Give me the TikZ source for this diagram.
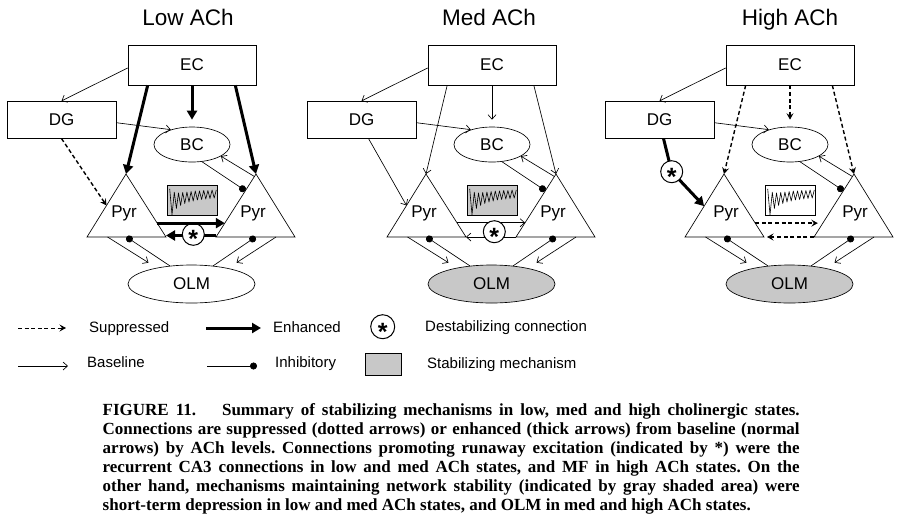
\documentclass[tikz,border=0pt]{standalone}
\usepackage{fontspec}
\setmainfont{Liberation Serif}
\setsansfont{Liberation Sans}
\usetikzlibrary{arrows.meta,shapes.geometric,calc}
\definecolor{shade}{RGB}{200,200,200}
\newcommand\lblfont{\sffamily\fontsize{17}{20}\selectfont}
\newcommand\legfont{\sffamily\fontsize{15}{18}\selectfont}
\newcommand\ttlfont{\sffamily\fontsize{22.5}{26}\selectfont}
\newcommand\capfont{\rmfamily\bfseries\fontsize{17}{19}\selectfont\frenchspacing}
\newcommand\starsym{\smash{\raisebox{-13.3pt}{\sffamily\bfseries\fontsize{25}{25}\selectfont *}}}
\newcommand\capline[1]{\makebox[697pt][s]{#1}}

% #1 prefix, #2 x offset, #3 OLM fill, #4 trace box fill, #5 Pyr label shift
\newcommand\panel[5]{%
  \node[rbox, minimum width=128pt, minimum height=40pt] (#1EC) at (#2+192,65) {EC};
  \node[rbox, minimum width=109pt, minimum height=37pt] (#1DG) at (#2+61.5,119.7) {DG};
  \node[ell, minimum width=76pt, minimum height=35pt] (#1BC) at (#2+192,144.5) {BC};
  \node[ell, minimum width=127pt, minimum height=38pt, fill=#3] (#1OLM) at (#2+191.5,284) {OLM};
  \coordinate (#1lA) at (#2+126,174);
  \coordinate (#1lB) at (#2+87,237);
  \coordinate (#1lC) at (#2+166,237);
  \coordinate (#1rA) at (#2+256,174);
  \coordinate (#1rB) at (#2+216,237);
  \coordinate (#1rC) at (#2+295,237);
  \draw[tri] (#1lA) -- (#1lB) -- (#1lC) -- cycle;
  \draw[tri] (#1rA) -- (#1rB) -- (#1rC) -- cycle;
  \node[lbl] (#1lP) at (#2+124+#5,213) {Pyr};
  \node[lbl] (#1rP) at (#2+253+#5,213) {Pyr};
  \node[tbox, fill=#4] (#1TR) at (#2+192.25,200.5) {};
  \draw[trc, shift={(#2+167,185.5)}] (2.7,3.3) -- (5,29.3) -- (7.3,6.7) -- (9.4,23) -- (11.5,7.5)
     -- (13.6,20) -- (15.7,7) -- (17.8,18) -- (19.9,6.5) -- (22,16.5) -- (24.1,6) -- (26.2,15.5)
     -- (28.3,5.5) -- (30.4,14.5) -- (32.5,5.5) -- (34.6,14) -- (36.7,5) -- (38.8,13.5)
     -- (40.9,5) -- (43,13) -- (45.1,4.5) -- (47.2,12.5) -- (49.3,4.5);
  \draw[basel] ([yshift=-3pt]#1EC.west) -- (#1DG.north);
  \draw[basel] ([yshift=-3pt]#1DG.east) -- (#1BC.145);
  \draw[basel] ($(#1rA)!0.04!(#1rB)$) -- (#1BC.-22);
  \draw[inh] (#1BC.-60) -- ($(#1rA)!0.265!(#1rB)$);
  \draw[basel] ($(#1lB)!0.26!(#1lC)$) -- ([xshift=-43pt,yshift=2pt]#1OLM.north);
  \draw[inh] (#1OLM.140) -- ($(#1lB)!0.5!(#1lC)$);
  \draw[basel] ($(#1rB)!0.76!(#1rC)$) -- ([xshift=45pt,yshift=2pt]#1OLM.north);
  \draw[inh] (#1OLM.40) -- ($(#1rB)!0.5!(#1rC)$);
}

\begin{document}
\begin{tikzpicture}[x=1pt,y=-1pt,
  rbox/.style={draw, line width=0.65pt, inner sep=0pt, font=\lblfont},
  ell/.style={ellipse, draw, line width=0.65pt, inner sep=0pt, font=\lblfont},
  lbl/.style={font=\lblfont, inner sep=0pt},
  tri/.style={line width=0.65pt, line join=miter},
  basel/.style={line width=0.65pt, -{Straight Barb[length=4.5pt,width=8pt]}},
  thk/.style={line width=3pt, -{Triangle[length=9pt,width=10pt]}},
  supp/.style={line width=1.4pt, dash pattern=on 4pt off 2.6pt, -{Stealth[length=6.5pt,width=7pt,inset=2.5pt]}},
  inh/.style={line width=0.65pt, -{Circle[length=7pt]}},
  starc/.style={circle, draw, line width=1pt, fill=white, minimum size=22pt, inner sep=0pt},
  tbox/.style={draw, line width=0.65pt, minimum width=50.5pt, minimum height=30pt, inner sep=0pt},
  trc/.style={line width=0.6pt, line join=round},
  leg/.style={font=\legfont, inner sep=0pt, anchor=base west},
  ttl/.style={font=\ttlfont, inner sep=0pt, anchor=base},
  capl/.style={font=\capfont, inner sep=0pt, anchor=base west},
]
\useasboundingbox (0,0) rectangle (904,523);

% titles
\node[ttl] (T1) at (188,25) {Low ACh};
\node[ttl] (T2) at (489,25) {Med ACh};
\node[ttl] (T3) at (790,25) {High ACh};

% ---------- Low ACh ----------
\panel{L}{0}{white}{shade}{0}
\draw[thk] ([xshift=20pt]LEC.south west) -- (LlA);
\draw[thk] (LEC.south) -- ([yshift=7pt]LBC.north);
\draw[thk] ([xshift=-21pt]LEC.south east) -- (LrA);
\draw[supp] (LDG.south) -- ($(LlA)!0.5!(LlB)$);
\draw[thk] ([yshift=1.5pt]LrB) -- ([yshift=1.5pt]LlC);
\node[starc] (LX) at (193.3,234.3) {\starsym};
\draw[thk] ($(LlA)!0.78!(LlC)$) -- ($(LrA)!0.78!(LrB)$);

% ---------- Med ACh ----------
\panel{M}{300}{shade}{shade}{0}
\draw[basel] ([xshift=19.5pt]MEC.south west) -- (MlA);
\draw[basel] (MEC.south) -- ([yshift=7pt]MBC.north);
\draw[basel] ([xshift=-22.5pt]MEC.south east) -- (MrA);
\draw[basel] ([xshift=7pt]MDG.south) -- ($(MlA)!0.5!(MlB)$);
\draw[basel] ($(MlA)!0.773!(MlC)$) -- ($(MrA)!0.773!(MrB)$);
\draw[basel] (MrB) -- (MlC);
\node[starc] (MX) at (494.3,231.7) {\starsym};

% ---------- High ACh ----------
\panel{H}{598}{shade}{white}{4}
\draw[supp] ([xshift=20pt]HEC.south west) -- (HlA);
\draw[supp] (HEC.south) -- ([yshift=7pt]HBC.north);
\draw[supp] ([xshift=-22pt]HEC.south east) -- (HrA);
\coordinate (HXc) at (671.7,171.7);
\draw[thk] ([xshift=4pt]HDG.south) -- (HXc) -- ($(HlA)!0.51!(HlB)$);
\node[starc] (HX) at (HXc) {\starsym};
\draw[supp] ($(HlA)!0.78!(HlC)$) -- ($(HrA)!0.78!(HrB)+(-5,0)$);
\draw[supp] (HrB) -- ([xshift=3pt]HlC);

% ---------- legend ----------
\coordinate (k1a) at (18,328);  \coordinate (k1b) at (66,328);
\coordinate (k2a) at (206,328); \coordinate (k2b) at (261,328);
\coordinate (k3a) at (18,366);  \coordinate (k3b) at (68,366);
\coordinate (k4a) at (207,366); \coordinate (k4b) at (257,366);
\draw[supp, line width=1pt] (k1a) -- (k1b);
\draw[thk] (k2a) -- (k2b);
\draw[basel] (k3a) -- (k3b);
\draw[inh] (k4a) -- (k4b);
\node[starc, minimum size=24pt] (kS) at (382.7,326.7) {\starsym};
\node[draw, fill=shade, line width=0.8pt, minimum width=36.7pt, minimum height=21.7pt, inner sep=0pt] (kG) at (383.3,364.2) {};
\node[leg] (t1) at (89,332) {Suppressed};
\node[leg] (t2) at (273,332) {Enhanced};
\node[leg] (t3) at (425,331) {Destabilizing connection};
\node[leg] (t4) at (87,367) {Baseline};
\node[leg] (t5) at (275,367) {Inhibitory};
\node[leg] (t6) at (427,368) {Stabilizing mechanism};

% ---------- caption ----------
\node[capl] (c1) at (102.5,415.7) {\capline{FIGURE 11.\hspace{26pt}Summary of stabilizing mechanisms in low, med and high cholinergic states.}};
\node[capl] (c2) at (102.5,434.6) {\capline{Connections are suppressed (dotted arrows) or enhanced (thick arrows) from baseline (normal}};
\node[capl] (c3) at (102.5,453.5) {\capline{arrows) by ACh levels. Connections promoting runaway excitation (indicated by *) were the}};
\node[capl] (c4) at (102.5,472.4) {\capline{recurrent CA3 connections in low and med ACh states, and MF in high ACh states. On the}};
\node[capl] (c5) at (102.5,491.3) {\capline{other hand, mechanisms maintaining network stability (indicated by gray shaded area) were}};
\node[capl] (c6) at (102.5,510.2) {short-term depression in low and med ACh states, and OLM in med and high ACh states.};
\end{tikzpicture}
\end{document}
